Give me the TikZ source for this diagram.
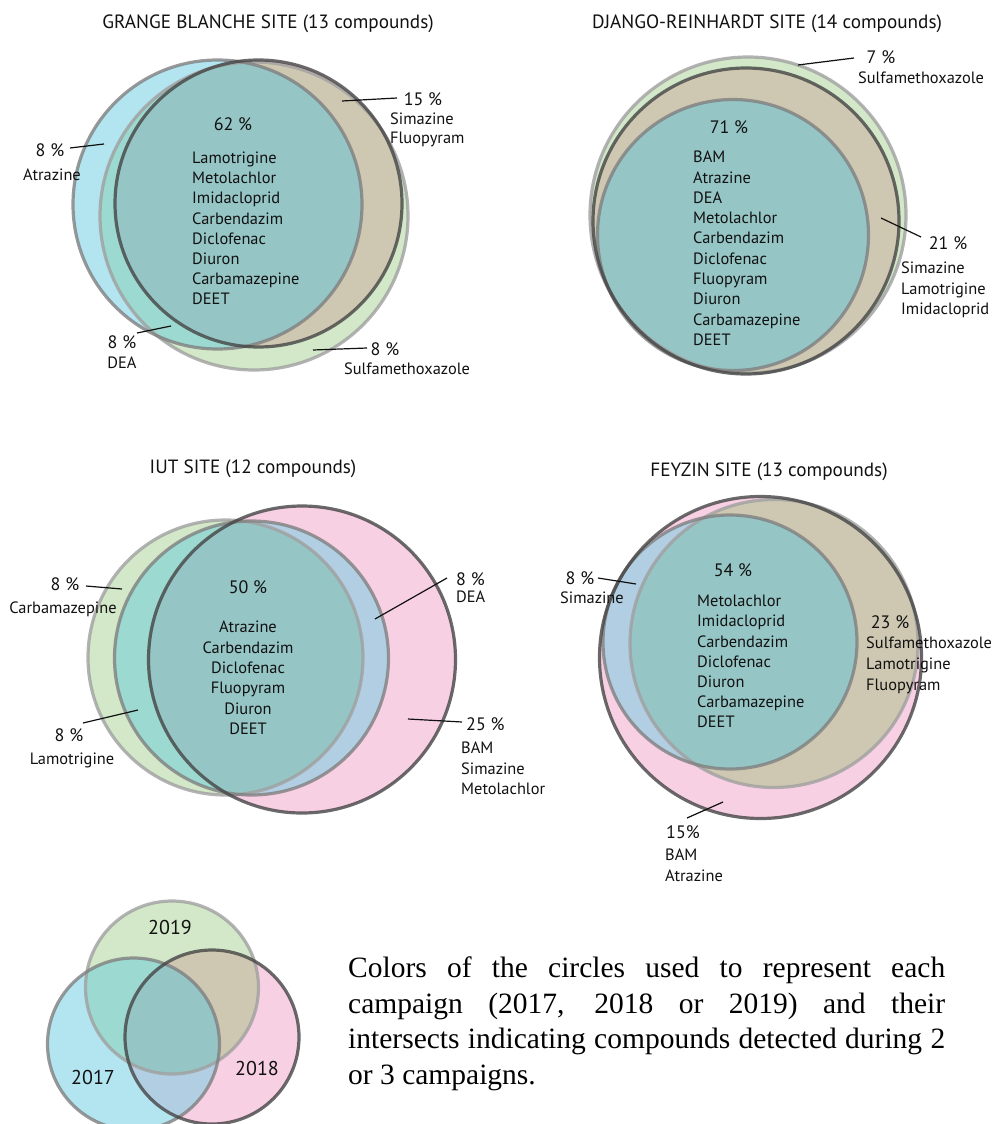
\documentclass[tikz,border=0pt]{standalone}
\usepackage{fontspec}
\setmainfont{PT Sans}
\newfontfamily\capfont{Liberation Serif}
\definecolor{col17}{HTML}{B3E5F1}
\definecolor{col18}{HTML}{F8D0E3}
\definecolor{col19}{HTML}{D2E8C8}
\definecolor{col1719}{HTML}{9CD9D0}
\definecolor{col1819}{HTML}{CEC8B2}
\definecolor{col1718}{HTML}{B2CEE2}
\definecolor{colall}{HTML}{96C5C5}
\definecolor{ln17}{HTML}{808080}
\definecolor{ln18}{HTML}{454545}
\definecolor{ln19}{HTML}{A0A0A0}
\definecolor{txt}{HTML}{111111}
\newcommand\fsT{\fontsize{19.2}{23}\selectfont}
\newcommand\fsP{\fontsize{18}{21}\selectfont}
\newcommand\fsL{\fontsize{16.4}{20}\selectfont}
\newcommand\fsY{\fontsize{20}{23}\selectfont}
\newcommand\fsC{\fontsize{29.5}{35.5}\capfont}
% half cap heights (text centre to baseline)
\newcommand\hT{6.7}
\newcommand\hP{6.3}
\newcommand\hL{5.7}
\newcommand\hY{7}
\tikzset{
  f17/.style={fill=col17}, f18/.style={fill=col18}, f19/.style={fill=col19},
  f1718/.style={fill=col1718}, f1719/.style={fill=col1719}, f1819/.style={fill=col1819},
  fall/.style={fill=colall},
  o17/.style={draw=ln17, line width=3.2pt, draw opacity=0.8},
  o18/.style={draw=ln18, line width=3.2pt, draw opacity=0.8},
  o19/.style={draw=ln19, line width=3.2pt, draw opacity=0.8},
  ttl/.style={inner sep=0pt, text=txt, font=\fsT},
  pct/.style={inner sep=0pt, text=txt, font=\fsP},
  lbl/.style={inner sep=0pt, text=txt, font=\fsL},
  yr/.style={inner sep=0pt, text=txt, font=\fsY},
  captxt/.style={inner sep=0pt, text=black, font=\fsC},
  leader/.style={draw=txt, line width=1.2pt},
}
% three-set diagram: A=2017 (x,y,r), B=2018, C=2019
\newcommand\vennthree[9]{%
  \fill[f17] (#1,#2) circle[radius=#3];
  \fill[f18] (#4,#5) circle[radius=#6];
  \fill[f19] (#7,#8) circle[radius=#9];
  \begin{scope}
    \clip (#1,#2) circle[radius=#3];
    \fill[f1718] (#4,#5) circle[radius=#6];
    \fill[f1719] (#7,#8) circle[radius=#9];
  \end{scope}
  \begin{scope}
    \clip (#4,#5) circle[radius=#6];
    \fill[f1819] (#7,#8) circle[radius=#9];
  \end{scope}
  \begin{scope}
    \clip (#1,#2) circle[radius=#3];
    \clip (#4,#5) circle[radius=#6];
    \fill[fall] (#7,#8) circle[radius=#9];
  \end{scope}
  \draw[o19] (#7,#8) circle[radius=#9];
  \draw[o17] (#1,#2) circle[radius=#3];
  \draw[o18] (#4,#5) circle[radius=#6];
}
\begin{document}
\begin{tikzpicture}[x=1pt,y=-1pt]
\useasboundingbox (0,0) rectangle (992,1124);
\fill[white] (0,0) rectangle (992,1124);

% ================= GRANGE BLANCHE =================
\vennthree{217.5}{204.5}{144.5}{258.5}{203.5}{143.5}{254}{216}{154}
\node[ttl, anchor=base] (gbT) at (268,{22+\hT}) {GRANGE BLANCHE SITE (13 compounds)};
\node[pct, anchor=base] (gbP) at (233,{124+\hP}) {62 \%};
\foreach \t [count=\i] in {Lamotrigine,Metolachlor,Imidacloprid,Carbendazim,Diclofenac,Diuron,Carbamazepine,DEET}
  \node[lbl, anchor=base west] (gbL\i) at (192,{158+\hL+(\i-1)*20.1}) {\t};
\node[pct, anchor=base] (gbP15) at (423,{99+\hP}) {15 \%};
\node[lbl, anchor=base west] (gbS1) at (390,{119+\hL}) {Simazine};
\node[lbl, anchor=base west] (gbS2) at (390,{138+\hL}) {Fluopyram};
\coordinate (gbA15) at (342,101); \coordinate (gbB15) at (397,98);
\draw[leader] (gbA15) -- (gbB15);
\node[pct, anchor=base] (gbP8a) at (50,{150+\hP}) {8 \%};
\node[lbl, anchor=base] (gbAtr) at (52,{175+\hL}) {Atrazine};
\coordinate (gbA8a) at (70,148); \coordinate (gbB8a) at (104,144);
\draw[leader] (gbA8a) -- (gbB8a);
\node[pct, anchor=base] (gbP8b) at (122,{342+\hP}) {8 \%};
\node[lbl, anchor=base] (gbDEA) at (122,{363+\hL}) {DEA};
\coordinate (gbA8b) at (137,333); \coordinate (gbB8b) at (171,326);
\draw[leader] (gbA8b) -- (gbB8b);
\node[pct, anchor=base] (gbP8c) at (385,{349+\hP}) {8 \%};
\node[lbl, anchor=base] (gbSul) at (407,{369+\hL}) {Sulfamethoxazole};
\coordinate (gbA8c) at (313,350); \coordinate (gbB8c) at (367,348);
\draw[leader] (gbA8c) -- (gbB8c);

% ================= DJANGO-REINHARDT =================
\vennthree{733}{235}{135.5}{746}{221}{153}{748}{215}{158}
\node[ttl, anchor=base] (drT) at (767,{22+\hT}) {DJANGO-REINHARDT SITE (14 compounds)};
\node[pct, anchor=base] (drP) at (729,{127+\hP}) {71 \%};
\foreach \t [count=\i] in {BAM,Atrazine,DEA,Metolachlor,Carbendazim,Diclofenac,Fluopyram,Diuron,Carbamazepine,DEET}
  \node[lbl, anchor=base west] (drL\i) at (693,{157+\hL+(\i-1)*20.3}) {\t};
\node[pct, anchor=base] (drP7) at (881,{57+\hP}) {7 \%};
\node[lbl, anchor=base] (drSul) at (921,{78+\hL}) {Sulfamethoxazole};
\coordinate (drA7) at (798,65); \coordinate (drB7) at (854,58);
\draw[leader] (drA7) -- (drB7);
\node[pct, anchor=base] (drP21) at (948,{243+\hP}) {21 \%};
\foreach \t [count=\i] in {Simazine,Lamotrigine,Imidacloprid}
  \node[lbl, anchor=base west] (drS\i) at (901,{268+\hL+(\i-1)*20.5}) {\t};
\coordinate (drA21) at (881,218); \coordinate (drB21) at (921,237);
\draw[leader] (drA21) -- (drB21);

% ================= IUT =================
\vennthree{251.5}{658}{137}{302}{659.5}{153.5}{225.5}{657.5}{137.5}
\node[ttl, anchor=base] (iuT) at (253,{467+\hT}) {IUT SITE (12 compounds)};
\node[pct, anchor=base] (iuP) at (248,{587+\hP}) {50 \%};
\foreach \t [count=\i] in {Atrazine,Carbendazim,Diclofenac,Fluopyram,Diuron,DEET}
  \node[lbl, anchor=base] (iuL\i) at (248,{627+\hL+(\i-1)*20.4}) {\t};
\node[pct, anchor=base] (iuP8a) at (65,{584+\hP}) {8 \%};
\node[lbl, anchor=base] (iuCar) at (63,{608+\hL}) {Carbamazepine};
\coordinate (iuA8a) at (86,586); \coordinate (iuB8a) at (122,589);
\draw[leader] (iuA8a) -- (iuB8a);
\node[pct, anchor=base] (iuP8b) at (69,{735+\hP}) {8 \%};
\node[lbl, anchor=base] (iuLam) at (72,{759+\hL}) {Lamotrigine};
\coordinate (iuA8b) at (83,723); \coordinate (iuB8b) at (138,710);
\draw[leader] (iuA8b) -- (iuB8b);
\node[pct, anchor=base west] (iuP8c) at (456,{579+\hP}) {8 \%};
\node[lbl, anchor=base west] (iuDEA) at (456,{597+\hL}) {DEA};
\coordinate (iuA8c) at (375,619); \coordinate (iuB8c) at (447,578);
\draw[leader] (iuA8c) -- (iuB8c);
\node[pct, anchor=base west] (iuP25) at (466,{724+\hP}) {25 \%};
\foreach \t [count=\i] in {BAM,Simazine,Metolachlor}
  \node[lbl, anchor=base west] (iuS\i) at (461,{748+\hL+(\i-1)*20.5}) {\t};
\coordinate (iuA25) at (408,719); \coordinate (iuB25) at (462,722);
\draw[leader] (iuA25) -- (iuB25);

% ================= FEYZIN =================
\vennthree{730}{642}{127}{760.5}{657.5}{161}{774}{643.5}{144}
\node[ttl, anchor=base] (feT) at (769,{470+\hT}) {FEYZIN SITE (13 compounds)};
\node[pct, anchor=base] (feP) at (733,{570+\hP}) {54 \%};
\foreach \t [count=\i] in {Metolachlor,Imidacloprid,Carbendazim,Diclofenac,Diuron,Carbamazepine,DEET}
  \node[lbl, anchor=base west] (feL\i) at (697,{601+\hL+(\i-1)*20.2}) {\t};
\node[pct, anchor=base] (feP23) at (890,{622+\hP}) {23 \%};
\foreach \t [count=\i] in {Sulfamethoxazole,Lamotrigine,Fluopyram}
  \node[lbl, anchor=base west] (feS\i) at (866,{643+\hL+(\i-1)*21}) {\t};
\node[pct, anchor=base] (feP8) at (580,{578+\hP}) {8 \%};
\node[lbl, anchor=base] (feSim) at (592,{598+\hL}) {Simazine};
\coordinate (feA8) at (598,578); \coordinate (feB8) at (636,584);
\draw[leader] (feA8) -- (feB8);
\node[pct, anchor=base west] (feP15) at (666,{832+\hP}) {15\%};
\node[lbl, anchor=base west] (feBAM) at (665,{855+\hL}) {BAM};
\node[lbl, anchor=base west] (feAtr) at (665,{876+\hL}) {Atrazine};
\coordinate (feA15) at (687,818); \coordinate (feB15) at (723,802);
\draw[leader] (feA15) -- (feB15);

% ================= LEGEND =================
\vennthree{133.5}{1044}{86}{212}{1037}{87}{172}{987.5}{86.5}
\node[yr, anchor=base] (y19) at (170,{927+\hY}) {2019};
\node[yr, anchor=base] (y17) at (93,{1077+\hY}) {2017};
\node[yr, anchor=base] (y18) at (257,{1068+\hY}) {2018};
\node[captxt, anchor=base west] (cap1) at (348,977.8) {\makebox[597pt][s]{Colors of the circles used to represent each}};
\node[captxt, anchor=base west] (cap2) at (348,1013.3) {\makebox[597pt][s]{campaign (2017, 2018 or 2019) and their}};
\node[captxt, anchor=base west] (cap3) at (348,1048.8) {\makebox[597pt][s]{intersects indicating compounds detected during 2}};
\node[captxt, anchor=base west] (cap4) at (348,1084.3) {or 3 campaigns.};
\end{tikzpicture}
\end{document}
